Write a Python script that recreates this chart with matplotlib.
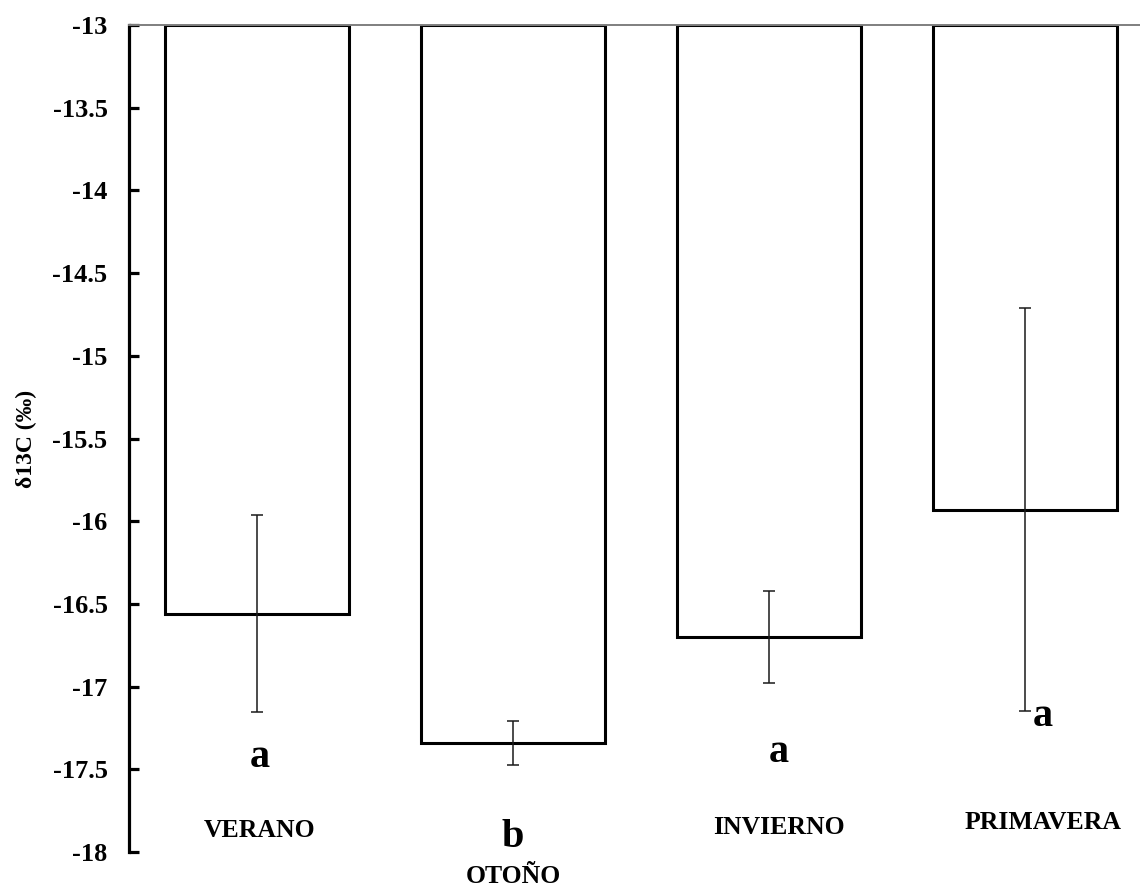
import matplotlib
matplotlib.use("Agg")
import matplotlib.pyplot as plt
import numpy as np

# Seasonal d13C means (per mil) with error bars
seasons = ["VERANO", "OTOÑO", "INVIERNO", "PRIMAVERA"]
means = [-16.56, -17.34, -16.70, -15.93]
errors = [0.595, 0.135, 0.28, 1.22]
letters = ["a", "b", "a", "a"]
yticks = [-18, -17.5, -17, -16.5, -16, -15.5, -15, -14.5, -14, -13.5, -13]
baseline = -13

plt.rcParams["font.family"] = ["Liberation Serif", "DejaVu Serif"]
plt.rcParams["font.weight"] = "bold"

fig = plt.figure(figsize=(11.4, 8.88), dpi=100)
ax = fig.add_axes([0.1132, 0.0405, 0.8868, 0.9313])

x = np.arange(len(seasons))
heights = [m - baseline for m in means]
ax.bar(x, heights, bottom=baseline, width=0.72, color="white",
       edgecolor="black", linewidth=2.2, zorder=2)
ax.errorbar(x, means, yerr=errors, fmt="none", ecolor="#1a1a1a",
            elinewidth=1.1, capsize=4, capthick=1.1, zorder=3)

# category axis drawn at the top (Excel style, crosses at -13)
ax.axhline(baseline, color="#7f7f7f", linewidth=1.4, zorder=4, clip_on=False)

ax.set_xlim(-0.5, 3.45)
ax.set_ylim(-18, -13)
ax.set_yticks(yticks)
ax.set_yticklabels([f"{t:g}" for t in yticks])
ax.set_xticks([])

for s in ["top", "right", "bottom"]:
    ax.spines[s].set_visible(False)
ax.spines["left"].set_linewidth(2.3)
ax.tick_params(axis="y", direction="in", length=7, width=2.3,
               labelsize=19, pad=15.5)
for lab in ax.get_yticklabels():
    lab.set_fontweight("bold")

ax.set_ylabel("δ13C (‰)", fontsize=17, fontweight="bold")
ax.yaxis.set_label_coords(-0.091, 0.5)

# hand-placed labels, as in the original figure
name_pos = [(0.01, -17.867), (1.0, -18.15), (2.04, -17.85), (3.07, -17.82)]
letter_pos = [(0.01, -17.43), (1.0, -17.91), (2.04, -17.40), (3.07, -17.18)]
for name, (nx, ny) in zip(seasons, name_pos):
    ax.text(nx, ny, name, ha="center", va="center", fontsize=18.5,
            fontweight="bold", clip_on=False)
for let, (lx, ly) in zip(letters, letter_pos):
    ax.text(lx, ly, let, ha="center", va="center", fontsize=29,
            fontweight="bold", clip_on=False)

fig.savefig("out.png", dpi=100)
